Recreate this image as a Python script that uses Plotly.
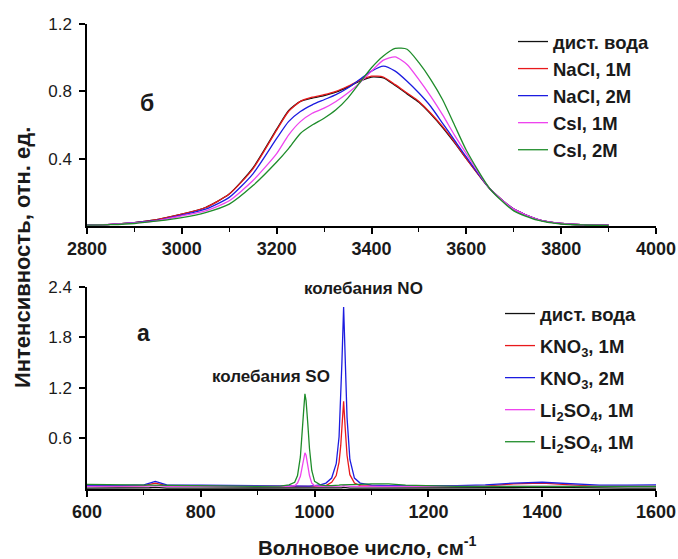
import plotly.graph_objects as go

# ---------- panel б (top): OH stretching band ----------
wn_top = [2800, 2850, 2900, 2950, 3000, 3050, 3100, 3150, 3200, 3225, 3250, 3275, 3300, 3325,
          3350, 3375, 3400, 3425, 3450, 3475, 3500, 3525, 3550, 3575, 3600, 3650, 3700, 3750,
          3800, 3850, 3900]
water_top = [0.005, 0.01, 0.02, 0.04, 0.07, 0.11, 0.19, 0.345, 0.575, 0.685, 0.74, 0.76, 0.775, 0.795,
             0.825, 0.86, 0.885, 0.88, 0.835, 0.785, 0.735, 0.665, 0.585, 0.495, 0.40, 0.22, 0.10, 0.04,
             0.015, 0.007, 0.005]
nacl1 = [0.005, 0.01, 0.02, 0.04, 0.07, 0.11, 0.19, 0.34, 0.57, 0.68, 0.74, 0.765, 0.78, 0.80,
         0.83, 0.865, 0.89, 0.885, 0.84, 0.79, 0.74, 0.67, 0.59, 0.50, 0.40, 0.22, 0.10, 0.04,
         0.015, 0.007, 0.005]
nacl2 = [0.005, 0.01, 0.02, 0.035, 0.065, 0.10, 0.17, 0.31, 0.52, 0.62, 0.68, 0.72, 0.75, 0.78,
         0.82, 0.87, 0.92, 0.95, 0.92, 0.86, 0.79, 0.71, 0.61, 0.51, 0.41, 0.22, 0.10, 0.04,
         0.015, 0.007, 0.005]
csi1 = [0.005, 0.01, 0.018, 0.032, 0.06, 0.09, 0.15, 0.27, 0.43, 0.54, 0.62, 0.67, 0.70, 0.74,
        0.79, 0.85, 0.92, 0.985, 1.005, 0.96, 0.87, 0.77, 0.66, 0.54, 0.43, 0.22, 0.10, 0.04,
        0.015, 0.007, 0.005]
csi2 = [0.005, 0.008, 0.015, 0.03, 0.05, 0.08, 0.13, 0.24, 0.38, 0.46, 0.55, 0.60, 0.64, 0.69,
        0.76, 0.85, 0.94, 1.01, 1.055, 1.05, 0.97, 0.87, 0.75, 0.60, 0.45, 0.22, 0.09, 0.035,
        0.012, 0.006, 0.004]

# ---------- panel а (bottom): low-frequency region ----------
wn_bot = [600, 650, 700, 710, 720, 730, 740, 800, 850, 900, 940, 955,
          965, 970, 975, 978, 981, 983, 985, 988, 991, 995, 1000, 1010,
          1020, 1030, 1038, 1043, 1046, 1048, 1051, 1054, 1057, 1062, 1070, 1080,
          1100, 1130, 1160, 1200, 1250, 1300, 1350, 1400, 1450, 1500, 1550, 1600]
water_bot = [0.01, 0.01, 0.01, 0.015, 0.02, 0.015, 0.01, 0.01, 0.01, 0.01, 0.01, 0.01,
             0.01, 0.01, 0.01, 0.01, 0.01, 0.01, 0.01, 0.01, 0.01, 0.01, 0.01, 0.01,
             0.01, 0.01, 0.01, 0.012, 0.015, 0.015, 0.02, 0.015, 0.012, 0.01, 0.01, 0.01,
             0.01, 0.01, 0.01, 0.01, 0.01, 0.01, 0.015, 0.02, 0.015, 0.01, 0.01, 0.01]
kno3_1 = [0.03, 0.03, 0.04, 0.055, 0.07, 0.055, 0.04, 0.035, 0.03, 0.03, 0.03, 0.03,
          0.03, 0.03, 0.03, 0.03, 0.03, 0.03, 0.03, 0.03, 0.03, 0.03, 0.03, 0.035,
          0.04, 0.08, 0.16, 0.32, 0.52, 0.75, 1.04, 0.70, 0.40, 0.17, 0.07, 0.04,
          0.035, 0.03, 0.03, 0.03, 0.03, 0.035, 0.06, 0.07, 0.05, 0.03, 0.03, 0.03]
kno3_2 = [0.04, 0.04, 0.05, 0.07, 0.09, 0.07, 0.05, 0.045, 0.04, 0.04, 0.035, 0.035,
          0.035, 0.035, 0.035, 0.035, 0.035, 0.035, 0.035, 0.035, 0.035, 0.035, 0.04, 0.05,
          0.07, 0.13, 0.30, 0.62, 1.05, 1.50, 2.16, 1.45, 0.85, 0.35, 0.13, 0.07,
          0.045, 0.04, 0.04, 0.04, 0.04, 0.05, 0.07, 0.08, 0.06, 0.045, 0.045, 0.05]
li2so4_1 = [0.03, 0.03, 0.03, 0.035, 0.04, 0.035, 0.03, 0.03, 0.03, 0.03, 0.03, 0.03,
            0.04, 0.07, 0.15, 0.26, 0.38, 0.43, 0.40, 0.28, 0.16, 0.07, 0.04, 0.03,
            0.03, 0.03, 0.03, 0.03, 0.035, 0.035, 0.04, 0.035, 0.03, 0.03, 0.03, 0.03,
            0.035, 0.035, 0.03, 0.03, 0.03, 0.03, 0.03, 0.035, 0.03, 0.03, 0.03, 0.03]
li2so4_2 = [0.055, 0.05, 0.045, 0.045, 0.05, 0.045, 0.04, 0.035, 0.03, 0.03, 0.035, 0.05,
            0.08, 0.16, 0.38, 0.62, 0.95, 1.13, 1.05, 0.78, 0.48, 0.22, 0.09, 0.05,
            0.04, 0.04, 0.04, 0.045, 0.05, 0.05, 0.05, 0.05, 0.05, 0.05, 0.05, 0.055,
            0.06, 0.06, 0.045, 0.035, 0.03, 0.03, 0.03, 0.03, 0.03, 0.03, 0.03, 0.03]

top_names = ["дист. вода", "NaCl, 1M", "NaCl, 2M", "CsI, 1M", "CsI, 2M"]
bot_names = ["дист. вода", "KNO<sub>3</sub>, 1M", "KNO<sub>3</sub>, 2M",
             "Li<sub>2</sub>SO<sub>4</sub>, 1M", "Li<sub>2</sub>SO<sub>4</sub>, 1M"]
colors = ["#111111", "#e8191b", "#1c1ce0", "#ee44ee", "#1e8c2a"]

top_series = [water_top, nacl1, nacl2, csi1, csi2]
bot_series = [water_bot, kno3_1, kno3_2, li2so4_1, li2so4_2]

FONT = "Liberation Sans, Arial, sans-serif"

fig = go.Figure()
for i, (name, ys) in enumerate(zip(top_names, top_series)):
    fig.add_trace(go.Scatter(x=wn_top, y=ys, name=name, mode="lines",
                             line=dict(color=colors[i], width=1.3, shape="spline", smoothing=0.6),
                             xaxis="x", yaxis="y", legend="legend", legendgroup=f"t{i}"))
for i, (name, ys) in enumerate(zip(bot_names, bot_series)):
    fig.add_trace(go.Scatter(x=wn_bot, y=ys, name=name, mode="lines",
                             line=dict(color=colors[i], width=1.3),
                             xaxis="x2", yaxis="y2", legend="legend2", legendgroup=f"b{i}"))

W, H = 678, 559
L, R, T, B = 87, 22, 24, 70
ph = H - T - B
pw = W - L - R


def py(pix):  # window pixel -> paper y
    return (H - B - pix) / ph


def px(pix):  # window pixel -> paper x
    return (pix - L) / pw


axis_common = dict(showline=True, linecolor="black", linewidth=1.5, ticks="outside",
                   ticklen=6, tickwidth=1.5, tickcolor="black", showgrid=False,
                   zeroline=False, mirror=False)

XT = dict(size=18, weight="bold", color="#1a1a1a")
YT = dict(size=17, color="#1a1a1a")


def note(text, x, y, size, angle=0):
    return dict(text=text, x=px(x), y=py(y), xref="paper", yref="paper", xanchor="center",
                yanchor="middle", showarrow=False, textangle=angle, font=dict(size=size))


fig.update_layout(
    width=W, height=H,
    margin=dict(l=L, r=R, t=T, b=B, autoexpand=False),
    paper_bgcolor="white", plot_bgcolor="white",
    font=dict(family=FONT, color="#1a1a1a"),
    xaxis=dict(domain=[0, 1], anchor="y", range=[2800, 4000],
               tickvals=[2800, 3000, 3200, 3400, 3600, 3800, 4000], tickfont=XT,
               minor=dict(dtick=100, tick0=2800, ticks="outside", ticklen=4, tickwidth=1.2, tickcolor="black"),
               **axis_common),
    yaxis=dict(domain=[py(226), 1], anchor="x", range=[0, 1.2], tickvals=[0.4, 0.8, 1.2],
               ticktext=["0.4", "0.8", "1.2"], tickfont=YT, ticklabelstandoff=4, **axis_common),
    xaxis2=dict(domain=[0, 1], anchor="y2", range=[600, 1600],
                tickvals=[600, 800, 1000, 1200, 1400, 1600], tickfont=XT,
                minor=dict(dtick=100, tick0=600, ticks="outside", ticklen=4, tickwidth=1.2, tickcolor="black"),
                **axis_common),
    yaxis2=dict(domain=[0, py(286.7)], anchor="x2", range=[0, 2.4], tickvals=[0.6, 1.2, 1.8, 2.4],
                ticktext=["0.6", "1.2", "1.8", "2.4"], tickfont=YT, ticklabelstandoff=4, **axis_common),
    legend=dict(x=px(513), y=py(23), xanchor="left", yanchor="top",
                font=dict(size=18.5, weight="bold", family=FONT, color="#1a1a1a"),
                bgcolor="rgba(0,0,0,0)", tracegroupgap=0, itemwidth=30),
    legend2=dict(x=px(500), y=py(295), xanchor="left", yanchor="top",
                 font=dict(size=18.5, weight="bold", family=FONT, color="#1a1a1a"),
                 bgcolor="rgba(0,0,0,0)", tracegroupgap=5, itemwidth=30),
    annotations=[
        note("<b>б</b>", 147, 103, 23),
        note("<b>а</b>", 143, 333, 23),
        note("<b>колебания SO</b>", 271, 376, 17),
        note("<b>колебания NO</b>", 363, 288, 17),
        note("<b>Интенсивность, отн. ед.</b>", 22, 258, 22, -90),
        note("<b>Волновое число, см<sup>-1</sup></b>", 367, 546, 20.5),
    ],
)

fig.write_html("out.html", config={"displayModeBar": False},
               post_script="document.body.style.margin='0';document.body.style.overflow='hidden';")
